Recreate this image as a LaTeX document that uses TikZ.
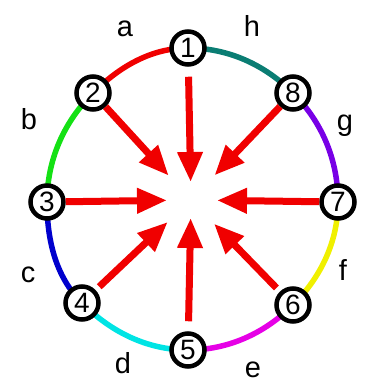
\documentclass[tikz,border=0pt]{standalone}
\usepackage{fontspec}
\setmainfont{Liberation Sans}
\usetikzlibrary{arrows.meta}
\definecolor{cRed}{RGB}{240,0,0}
\definecolor{cGreen}{RGB}{20,225,20}
\definecolor{cBlue}{RGB}{0,0,205}
\definecolor{cCyan}{RGB}{0,228,228}
\definecolor{cMag}{RGB}{230,0,230}
\definecolor{cYel}{RGB}{240,240,0}
\definecolor{cVio}{RGB}{120,0,230}
\definecolor{cTeal}{RGB}{10,125,115}
\tikzset{
  numnode/.style={circle,draw=black,line width=4.5pt,fill=white,minimum size=33pt,inner sep=0pt,font=\fontsize{28}{28}\selectfont},
  seg/.style={line width=5.5pt,looseness=0.9},
  ray/.style={draw=cRed,line width=7pt,-{Triangle[length=30pt,width=24pt]}},
  lab/.style={font=\fontsize{29}{29}\selectfont,anchor=base,inner sep=0pt}
}
\begin{document}
\begin{tikzpicture}[x=1pt,y=1pt]
\useasboundingbox (0,0) rectangle (366,-382);
\coordinate (c1) at (188,-48);
\coordinate (c2) at (93,-93);
\coordinate (c3) at (47,-202);
\coordinate (c4) at (82,-303);
\coordinate (c5) at (188,-350);
\coordinate (c6) at (293,-305);
\coordinate (c7) at (338,-202);
\coordinate (c8) at (293,-93);
\coordinate (ctr) at (191,-200);
% ring segments
\draw[seg,cRed]   (c1) to[out=180,in=45]  (c2);
\draw[seg,cGreen] (c2) to[out=225,in=90]  (c3);
\draw[seg,cBlue]  (c3) to[out=270,in=135] (c4);
\draw[seg,cCyan]  (c4) to[out=315,in=180] (c5);
\draw[seg,cMag]   (c5) to[out=0,in=225]   (c6);
\draw[seg,cYel]   (c6) to[out=45,in=270]  (c7);
\draw[seg,cVio]   (c7) to[out=90,in=315]  (c8);
\draw[seg,cTeal]  (c8) to[out=135,in=0]   (c1);
% nodes
\node[numnode] (n1) at (c1) {1};
\node[numnode] (n2) at (c2) {2};
\node[numnode] (n3) at (c3) {3};
\node[numnode] (n4) at (c4) {4};
\node[numnode] (n5) at (c5) {5};
\node[numnode] (n6) at (c6) {6};
\node[numnode] (n7) at (c7) {7};
\node[numnode] (n8) at (c8) {8};
% arrows
\draw[ray,shorten <=10pt,shorten >=18pt] (n1) -- (ctr);
\draw[ray,shorten <=10pt,shorten >=18pt] (n5) -- (ctr);
\draw[ray,shorten >=24pt] (n3) -- (ctr);
\draw[ray,shorten >=26pt] (n7) -- (ctr);
\draw[ray,shorten >=33pt] (n2) -- (ctr);
\draw[ray,shorten >=34pt] (n8) -- (ctr);
\draw[ray,shorten <=5pt,shorten >=32pt] (n4) -- (ctr);
\draw[ray,shorten <=5pt,shorten >=33pt] (n6) -- (ctr);
% labels
\node[lab] (la) at (125,-37) {a};
\node[lab] (lh) at (252,-37) {h};
\node[lab] (lb) at (29,-130) {b};
\node[lab] (lg) at (345,-131) {g};
\node[lab] (lc) at (28,-282) {c};
\node[lab] (lf) at (343,-280) {f};
\node[lab] (ld) at (123,-373) {d};
\node[lab] (le) at (253,-377) {e};
\end{tikzpicture}
\end{document}
